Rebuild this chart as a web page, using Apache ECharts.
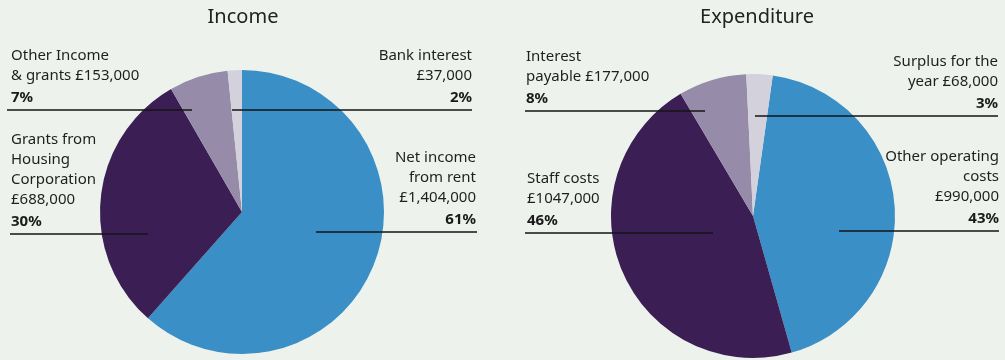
<!DOCTYPE html>
<html>
<head>
<meta charset="utf-8">
<style>
  html, body { margin: 0; padding: 0; background: #edf3ec; }
  #chart { width: 1005px; height: 360px; }
</style>
<script src="https://cdn.jsdelivr.net/npm/echarts@6/dist/echarts.min.js"></script>
</head>
<body>
<div id="chart"></div>
<script>
// Income, in pounds, clockwise from 12 o'clock
const incomeCategories = ['Net income from rent', 'Grants from Housing Corporation', 'Other Income & grants', 'Bank interest'];
const incomeValues = [1404000, 688000, 153000, 37000];
const incomeCaptions = ['Net income\nfrom rent\n£1,404,000', 'Grants from\nHousing\nCorporation\n£688,000', 'Other Income\n& grants £153,000', 'Bank interest\n£37,000'];
const incomeShares = ['61%', '30%', '7%', '2%'];

// Expenditure, in pounds
const expenditureCategories = ['Other operating costs', 'Staff costs', 'Interest payable', 'Surplus for the year'];
const expenditureValues = [990000, 1047000, 177000, 68000];
const expenditureCaptions = ['Other operating\ncosts\n£990,000', 'Staff costs\n£1047,000', 'Interest\npayable £177,000', 'Surplus for the\nyear £68,000'];
const expenditureShares = ['43%', '46%', '8%', '3%'];

const sliceColors = ['#3a8fc6', '#3a1e54', '#968ba9', '#d2d1dc'];
const FONT = '"Noto Sans", sans-serif';

// Caption anchors: text edge, rule height and the rule's horizontal extent
const incomeAnchors = [
  { x: 476, y: 232, align: 'right', from: 316, to: 477 },
  { x: 11,  y: 234, align: 'left',  from: 10,  to: 148 },
  { x: 11,  y: 110, align: 'left',  from: 7,   to: 192 },
  { x: 472, y: 110, align: 'right', from: 232, to: 472 }
];
const expenditureAnchors = [
  { x: 999, y: 231, align: 'right', from: 839, to: 999 },
  { x: 527, y: 233, align: 'left',  from: 525, to: 713 },
  { x: 526, y: 111, align: 'left',  from: 525, to: 705 },
  { x: 998, y: 116, align: 'right', from: 755, to: 998 }
];

function pieSeries(name, categories, values, captions, shares, anchors, center, startAngle) {
  return {
    type: 'pie',
    name: name,
    center: center,
    radius: 142,
    startAngle: startAngle,
    clockwise: true,
    avoidLabelOverlap: false,
    silent: true,
    itemStyle: { borderWidth: 0 },
    emphasis: { disabled: true },
    data: categories.map((c, i) => ({
      name: c,
      value: values[i],
      itemStyle: { color: sliceColors[i] }
    })),
    label: {
      show: true,
      position: 'outside',
      overflow: 'none',
      fontFamily: FONT,
      fontSize: 15,
      lineHeight: 20,
      color: '#1f1f1f',
      formatter: (p) => captions[p.dataIndex] + '\n{b|' + shares[p.dataIndex] + '}',
      rich: {
        b: { fontFamily: FONT, fontSize: 15, fontWeight: 'bold', lineHeight: 24, color: '#1a1a1a' }
      }
    },
    labelLine: { show: false },
    labelLayout: (p) => {
      const a = anchors[p.dataIndex];
      return { x: a.x, y: a.y, align: a.align, verticalAlign: 'bottom' };
    }
  };
}

// Rules under each caption, drawn over the slices
function rules(anchors) {
  return anchors.map((a) => ({
    type: 'line',
    z: 100,
    silent: true,
    shape: { x1: a.from, y1: a.y, x2: a.to, y2: a.y },
    style: { stroke: '#141414', lineWidth: 1.6 }
  }));
}

const chart = echarts.init(document.getElementById('chart'), null, { renderer: 'canvas' });
chart.setOption({
  backgroundColor: '#edf3ec',
  animation: false,
  graphic: [
    { type: 'text', x: 243, y: 17, style: { text: 'Income', align: 'center', verticalAlign: 'middle', font: '20px ' + FONT, fill: '#222222' } },
    { type: 'text', x: 757, y: 17, style: { text: 'Expenditure', align: 'center', verticalAlign: 'middle', font: '20px ' + FONT, fill: '#222222' } }
  ].concat(rules(incomeAnchors), rules(expenditureAnchors)),
  series: [
    pieSeries('Income', incomeCategories, incomeValues, incomeCaptions, incomeShares, incomeAnchors, [242, 212], 90),
    pieSeries('Expenditure', expenditureCategories, expenditureValues, expenditureCaptions, expenditureShares, expenditureAnchors, [753, 216], 82)
  ]
});
</script>
</body>
</html>
